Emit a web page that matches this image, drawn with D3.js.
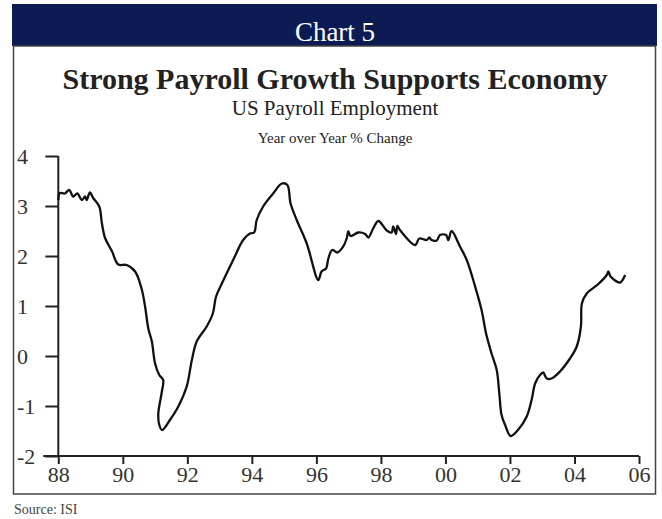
<!DOCTYPE html>
<html lang="en">
<head>
<meta charset="utf-8">
<style>
  body { margin: 0; background: #fff; }
  svg text { font-family: "Liberation Serif", "DejaVu Serif", serif; }
</style>
</head>
<body>
<div id="chart"></div>
<script src="https://d3js.org/d3.v7.min.js"></script>
<script>
// payroll employment, year over year % change
var years = [1988.0, 1988.05, 1988.2, 1988.34, 1988.46, 1988.59, 1988.73, 1988.83, 1988.88, 1988.98,
  1989.08, 1989.27, 1989.35, 1989.45, 1989.66, 1989.86, 1990.12, 1990.38, 1990.58, 1990.69,
  1990.79, 1990.9, 1991.0, 1991.13, 1991.25, 1991.2, 1991.1, 1991.13, 1991.22, 1991.46,
  1991.72, 1991.98, 1992.14, 1992.29, 1992.6, 1992.79, 1992.89, 1993.07, 1993.42, 1993.73,
  1993.94, 1994.07, 1994.15, 1994.35, 1994.66, 1994.93, 1995.1, 1995.2, 1995.39, 1995.7,
  1996.06, 1996.16, 1996.3, 1996.37, 1996.49, 1996.65, 1996.83, 1996.94, 1996.99, 1997.06,
  1997.3, 1997.51, 1997.61, 1997.76, 1997.92, 1998.18, 1998.33, 1998.38, 1998.47, 1998.51,
  1998.59, 1999.06, 1999.19, 1999.42, 1999.5, 1999.57, 1999.73, 1999.83, 2000.02, 2000.09,
  2000.19, 2000.45, 2000.66, 2000.92, 2001.12, 2001.26, 2001.43, 2001.59, 2001.67, 2001.74,
  2001.85, 2002.02, 2002.26, 2002.52, 2002.67, 2002.78, 2002.93, 2003.03, 2003.14, 2003.29,
  2003.55, 2003.86, 2004.07, 2004.2, 2004.23, 2004.38, 2004.74, 2005.0, 2005.05, 2005.12,
  2005.41, 2005.57];
var values = [3.12, 3.26, 3.25, 3.32, 3.19, 3.25, 3.12, 3.19, 3.12, 3.27,
  3.16, 2.99, 2.66, 2.36, 2.1, 1.83, 1.82, 1.69, 1.35, 0.99,
  0.55, 0.29, -0.15, -0.38, -0.48, -0.75, -1.15, -1.38, -1.48, -1.28,
  -1.01, -0.61, -0.08, 0.29, 0.59, 0.85, 1.19, 1.45, 1.92, 2.32,
  2.45, 2.47, 2.72, 2.99, 3.25, 3.45, 3.42, 3.05, 2.72, 2.25,
  1.52, 1.69, 1.75, 1.95, 2.12, 2.07, 2.19, 2.35, 2.49, 2.4,
  2.47, 2.44, 2.37, 2.55, 2.7, 2.51, 2.47, 2.59, 2.44, 2.6,
  2.52, 2.22, 2.35, 2.32, 2.37, 2.32, 2.31, 2.42, 2.42, 2.32,
  2.5, 2.19, 1.92, 1.39, 0.92, 0.45, 0.05, -0.28, -0.75, -1.18,
  -1.38, -1.6, -1.47, -1.21, -0.88, -0.55, -0.38, -0.33, -0.45, -0.45,
  -0.31, -0.05, 0.19, 0.59, 1.05, 1.25, 1.44, 1.62, 1.69, 1.59,
  1.47, 1.62];
var xTicks = [1988, 1990, 1992, 1994, 1996, 1998, 2000, 2002, 2004, 2006];
var yTicks = [-2, -1, 0, 1, 2, 3, 4];

var width = 662, height = 519;
var svg = d3.select("#chart").append("svg")
    .attr("width", width)
    .attr("height", height);

// header band and frame
svg.append("rect").attr("x", 12).attr("y", 4).attr("width", 645).attr("height", 42)
    .attr("fill", "#0c1b54");
svg.append("rect").attr("x", 13.5).attr("y", 46).attr("width", 642).attr("height", 448)
    .attr("fill", "none").attr("stroke", "#444").attr("stroke-width", 1.5);

svg.append("text").attr("x", 335).attr("y", 41).attr("text-anchor", "middle")
    .attr("fill", "#fff").style("font-size", "27px").text("Chart 5");
svg.append("text").attr("x", 335).attr("y", 89).attr("text-anchor", "middle")
    .attr("fill", "#222").style("font-size", "30px").style("font-weight", "bold")
    .text("Strong Payroll Growth Supports Economy");
svg.append("text").attr("x", 335).attr("y", 115).attr("text-anchor", "middle")
    .attr("fill", "#222").style("font-size", "21px").text("US Payroll Employment");
svg.append("text").attr("x", 335).attr("y", 143).attr("text-anchor", "middle")
    .attr("fill", "#222").style("font-size", "15px").text("Year over Year % Change");

var x = d3.scaleLinear().domain([1988, 2006]).range([58.3, 639]);
var y = d3.scaleLinear().domain([-2, 4]).range([456, 156]);

var yAxis = svg.append("g").attr("transform", "translate(" + x(1988) + ",0)")
    .call(d3.axisLeft(y).tickValues(yTicks).tickSize(13)
      .tickFormat(function(d) { return d < 0 ? "-" + Math.abs(d) : d; }));
var xAxis = svg.append("g").attr("transform", "translate(0," + y(-2) + ")")
    .call(d3.axisBottom(x).tickValues(xTicks).tickSize(8).tickPadding(2)
      .tickFormat(function(d) { return d3.format("02")(d % 100); }));

[yAxis, xAxis].forEach(function(g) {
  g.select(".domain").attr("stroke", "#222").attr("stroke-width", 2);
  g.selectAll(".tick line").attr("stroke", "#222").attr("stroke-width", 2);
  g.selectAll(".tick text").attr("fill", "#333")
    .style("font-family", "Liberation Serif, serif").style("font-size", "22px");
});
// y labels sit flush left against the frame
yAxis.selectAll(".tick text").attr("text-anchor", "start").attr("x", 17 - x(1988));
// y axis line runs from -2 up to 4 without the outer ticks
yAxis.select(".domain").attr("d", "M0," + y(-2) + "V" + y(4));
xAxis.select(".domain").attr("d", "M" + (x(1988) - 15) + ",0H" + x(2006));

var line = d3.line()
    .x(function(d) { return x(d[0]); })
    .y(function(d) { return y(d[1]); })
    .curve(d3.curveCatmullRom.alpha(0.5));

svg.append("path")
    .datum(years.map(function(t, i) { return [t, values[i]]; }))
    .attr("d", line)
    .attr("fill", "none")
    .attr("stroke", "#111")
    .attr("stroke-width", 2.3)
    .attr("stroke-linejoin", "round");

svg.append("text").attr("x", 14).attr("y", 514).attr("fill", "#444")
    .style("font-size", "14px").text("Source: ISI");
</script>
</body>
</html>
